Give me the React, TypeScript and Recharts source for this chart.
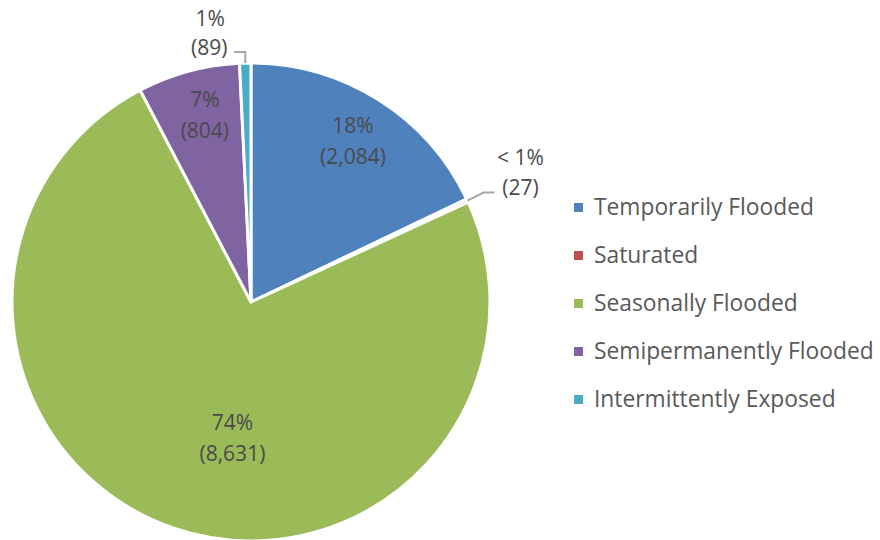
import { PieChart, Pie, Cell } from 'recharts'

const categories = ['Temporarily Flooded', 'Saturated', 'Seasonally Flooded', 'Semipermanently Flooded', 'Intermittently Exposed']
const counts = [2084, 27, 8631, 804, 89]
const percentLabels = ['18%', '< 1%', '74%', '7%', '1%']
const colors = ['#4F81BD', '#C0504D', '#9BBB59', '#8064A2', '#4BACC6']

const data = categories.map((name, i) => ({ name, value: counts[i], pct: percentLabels[i] }))

const FONT = '"Open Sans", "Noto Sans", sans-serif'
const INK = '#595959'
const RAD = Math.PI / 180

// where each label sits: inside labels use radius fraction + angle nudge, outside ones a leader line
const labelPlacement: Record<number, { inside: boolean; r: number; shift: number }> = {
  0: { inside: true, r: 0.8, shift: 0 },
  1: { inside: false, r: 1.0, shift: 0 },
  2: { inside: true, r: 0.57, shift: 11 },
  3: { inside: true, r: 0.81, shift: -1.4 },
  4: { inside: false, r: 1.0, shift: 0 },
}

const fmt = (v: number) => v.toLocaleString('en-US')

function SliceLabel(props: any) {
  const { cx, cy, midAngle, outerRadius, index, value, payload } = props
  const p = labelPlacement[index]
  const pct = payload?.pct ?? percentLabels[index]
  const textStyle = { fontFamily: FONT, fontSize: 21, fill: '#4A4A4A' }
  if (p.inside) {
    const a = (midAngle + p.shift) * RAD
    const x = cx + outerRadius * p.r * Math.cos(a)
    const y = cy - outerRadius * p.r * Math.sin(a)
    return (
      <g>
        <text x={x} y={y - 15} textAnchor="middle" dominantBaseline="central" style={textStyle}>{pct}</text>
        <text x={x} y={y + 16} textAnchor="middle" dominantBaseline="central" style={textStyle}>({fmt(value)})</text>
      </g>
    )
  }
  const a = midAngle * RAD
  const ex = cx + outerRadius * Math.cos(a)
  const ey = cy - outerRadius * Math.sin(a)
  if (Math.cos(a) > 0.5) {
    // right side: short diagonal then horizontal
    const kx = ex + 16
    const ky = ey - 8
    const hx = kx + 11
    return (
      <g>
        <polyline points={`${ex},${ey} ${kx},${ky} ${hx},${ky}`} fill="none" stroke="#A6A6A6" strokeWidth={2} />
        <text x={hx + 26} y={ky - 36} textAnchor="middle" dominantBaseline="central" style={textStyle}>{pct}</text>
        <text x={hx + 26} y={ky - 6} textAnchor="middle" dominantBaseline="central" style={textStyle}>({fmt(value)})</text>
      </g>
    )
  }
  // top: straight up then to the left
  const ky = ey - 11
  const hx = ex - 11
  return (
    <g>
      <polyline points={`${ex},${ey} ${ex},${ky} ${hx},${ky}`} fill="none" stroke="#A6A6A6" strokeWidth={2} />
      <text x={hx - 24} y={ky - 34} textAnchor="middle" dominantBaseline="central" style={textStyle}>{pct}</text>
      <text x={hx - 25} y={ky - 5} textAnchor="middle" dominantBaseline="central" style={textStyle}>({fmt(value)})</text>
    </g>
  )
}

function LegendList() {
  return (
    <div style={{ position: 'absolute', left: 574, top: 183, fontFamily: FONT, fontSize: 22.8, color: INK, lineHeight: 1 }}>
      {categories.map((c, i) => (
        <div key={c} style={{ display: 'flex', alignItems: 'center', height: 48 }}>
          <span style={{ width: 9, height: 9, background: colors[i], marginRight: 11, display: 'inline-block' }} />
          <span>{c}</span>
        </div>
      ))}
    </div>
  )
}

export default function App() {
  return (
    <div style={{ position: 'absolute', left: 0, top: 0, width: 880, height: 540, background: '#fff', overflow: 'hidden' }}>
      <PieChart width={880} height={540} margin={{ top: 0, right: 0, bottom: 0, left: 0 }}>
        <Pie
          data={data}
          dataKey="value"
          nameKey="name"
          cx={251}
          cy={302}
          outerRadius={239}
          startAngle={90}
          endAngle={-270}
          stroke="#FFFFFF"
          strokeWidth={3}
          label={SliceLabel}
          labelLine={false}
          isAnimationActive={false}
        >
          {data.map((d, i) => <Cell key={d.name} fill={colors[i]} />)}
        </Pie>
      </PieChart>
      <LegendList />
    </div>
  )
}
